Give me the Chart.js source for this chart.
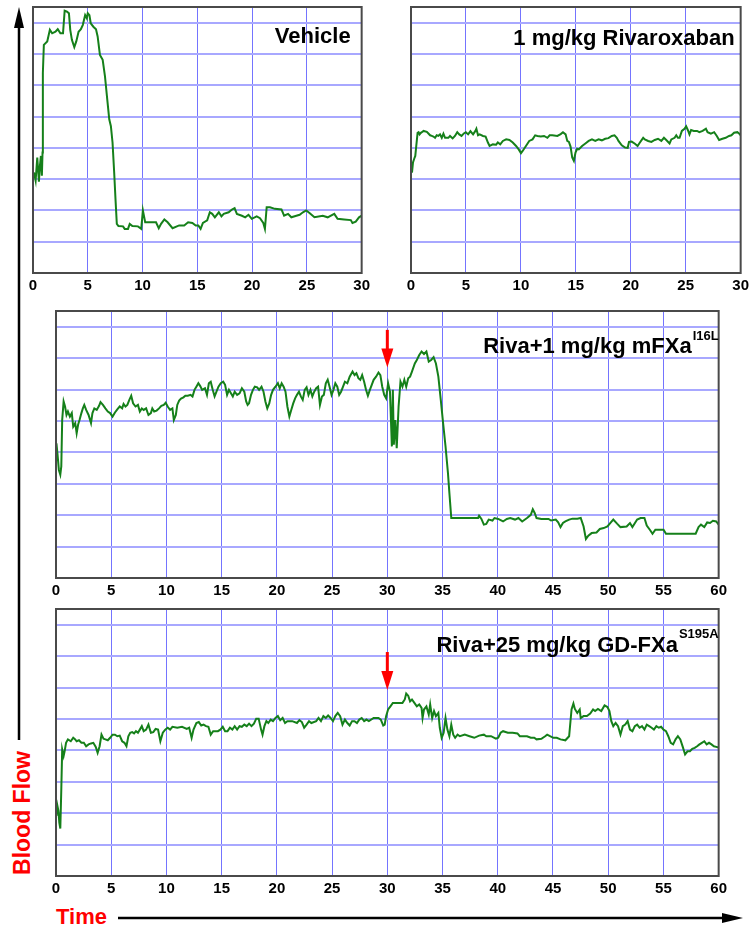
<!DOCTYPE html>
<html lang="en">
<head>
<meta charset="UTF-8">
<title>Blood flow traces</title>
<script src="https://cdn.jsdelivr.net/npm/chart.js@4.4.1/dist/chart.umd.min.js"></script>
<style>
  html, body { margin: 0; padding: 0; background: #fff; overflow: hidden; }
  body { width: 754px; height: 949px; position: relative; font-family: Arial, "Liberation Sans", sans-serif; }
  canvas { position: absolute; }
  svg { position: absolute; left: 0; top: 0; }
</style>
</head>
<body>
<svg width="754" height="949">
  <line x1="19" y1="740" x2="19" y2="24" stroke="#000" stroke-width="2.5"/>
  <polygon points="19,7 14,28 24,28" fill="#000"/>
  <line x1="118" y1="918" x2="726" y2="918" stroke="#000" stroke-width="2.5"/>
  <polygon points="743,918 722,913 722,923" fill="#000"/>
  <text transform="translate(30,813) rotate(-90)" text-anchor="middle" fill="#ff0000" font-family="Arial, Liberation Sans, sans-serif" font-weight="bold" font-size="23">Blood Flow</text>
  <text x="56" y="924" fill="#ff0000" font-family="Arial, Liberation Sans, sans-serif" font-weight="bold" font-size="22">Time</text>
</svg>
<canvas id="vehicle"></canvas>
<canvas id="riva"></canvas>
<canvas id="mfxa"></canvas>
<canvas id="gdfxa"></canvas>

<script>
// time (min) and blood flow readings
const vehicleTime = [0.09,0.24,0.39,0.54,0.63,0.72,0.81,0.87,0.90,0.99,1.30,1.54,1.75,2.05,2.26,2.50,2.74,2.89,3.10,3.28,3.40,3.55,3.77,3.95,4.16,4.37,4.55,4.76,4.91,5.00,5.15,5.27,5.51,5.75,5.90,6.11,6.36,6.57,6.78,6.96,7.11,7.26,7.41,7.53,7.65,7.80,8.22,8.37,8.67,8.83,9.07,9.58,9.88,10.03,10.24,11.23,11.48,11.69,11.99,12.29,12.74,13.34,13.80,14.16,14.55,14.85,15.09,15.30,15.51,15.90,16.14,16.36,16.60,16.96,17.20,17.41,17.86,18.16,18.40,18.61,19.07,19.37,19.67,19.97,20.42,20.72,21.02,21.17,21.33,21.63,22.08,22.68,22.92,23.28,23.58,24.04,24.34,24.64,24.94,25.24,25.69,26.45,26.90,27.50,27.80,28.40,29.01,29.16,29.46,29.76,30];
const vehicleFlow = [3.21,2.95,3.69,2.92,3.42,3.74,3.11,3.85,6.39,7.29,7.40,7.77,7.66,7.71,7.79,7.66,7.66,8.38,8.35,8.30,7.77,7.45,7.22,7.40,7.71,7.79,7.93,8.24,8.14,8.30,8.24,7.98,7.87,7.79,7.56,6.97,6.81,6.28,5.54,4.91,4.69,4.17,3.21,2.36,1.57,1.50,1.49,1.41,1.41,1.57,1.50,1.49,1.41,2.00,1.62,1.62,1.43,1.57,1.71,1.62,1.43,1.52,1.52,1.62,1.60,1.52,1.52,1.41,1.60,1.68,1.94,1.89,1.78,1.94,1.81,1.89,1.94,2.03,2.07,1.89,1.83,1.78,1.86,1.73,1.81,1.75,1.60,1.41,2.10,2.10,2.05,2.03,1.83,1.89,1.78,1.83,1.86,1.94,2.00,1.92,1.78,1.83,1.78,1.89,1.73,1.71,1.69,1.60,1.64,1.78,1.83];

const rivaTime = [0.09,0.18,0.30,0.39,0.48,0.60,0.69,0.78,0.90,0.99,1.14,1.44,1.74,1.89,2.04,2.19,2.34,2.49,2.64,2.80,2.95,3.10,3.40,3.55,3.79,4.00,4.21,4.39,4.60,4.81,4.99,5.20,5.41,5.65,5.86,5.95,6.10,6.25,6.55,6.79,7.00,7.15,7.45,7.75,7.90,8.12,8.36,8.66,8.96,9.26,9.56,9.80,10.01,10.16,10.46,10.76,11.06,11.30,11.51,11.81,12.11,12.41,12.62,12.86,13.32,13.62,13.83,14.07,14.22,14.37,14.52,14.67,14.82,14.97,15.12,15.27,15.57,15.87,16.17,16.47,16.77,17.07,17.37,17.67,17.97,18.27,18.52,18.73,18.88,19.18,19.48,19.72,19.84,20.08,20.38,20.62,20.83,21.13,21.28,21.58,21.88,22.18,22.48,22.78,23.02,23.23,23.53,23.69,23.99,24.14,24.29,24.44,24.65,24.89,25.04,25.19,25.34,25.49,25.73,26.03,26.24,26.54,26.84,26.99,27.29,27.59,27.83,28.04,28.34,28.64,28.94,29.16,29.40,29.70,29.85,30];
const rivaFlow = [3.21,3.53,3.66,3.74,4.06,4.48,4.50,4.43,4.48,4.50,4.54,4.51,4.40,4.38,4.36,4.32,4.40,4.38,4.43,4.32,4.45,4.32,4.32,4.38,4.30,4.38,4.50,4.43,4.38,4.46,4.50,4.43,4.53,4.43,4.54,4.61,4.40,4.43,4.38,4.36,4.17,4.06,4.11,4.10,4.17,4.11,4.22,4.27,4.25,4.17,4.06,3.95,3.83,3.90,4.06,4.22,4.27,4.40,4.38,4.36,4.38,4.32,4.40,4.40,4.38,4.44,4.50,4.43,4.22,4.19,4.04,3.69,3.58,3.85,3.97,3.95,4.06,4.14,4.22,4.27,4.22,4.27,4.24,4.29,4.31,4.38,4.40,4.32,4.22,4.08,4.01,4.00,4.19,4.20,4.13,4.06,4.17,4.32,4.27,4.22,4.19,4.25,4.29,4.22,4.32,4.25,4.14,4.27,4.32,4.40,4.32,4.32,4.54,4.61,4.69,4.57,4.43,4.57,4.54,4.54,4.50,4.54,4.61,4.50,4.45,4.50,4.38,4.25,4.29,4.32,4.38,4.40,4.48,4.50,4.46,4.40];

const mfxaTime = [0.04,0.13,0.26,0.39,0.48,0.56,0.69,0.82,0.95,1.08,1.26,1.43,1.56,1.74,1.87,2.00,2.13,2.30,2.43,2.56,2.73,2.95,3.17,3.30,3.47,3.69,3.90,4.03,4.25,4.47,4.69,4.90,5.12,5.34,5.55,5.77,5.99,6.12,6.29,6.46,6.64,6.81,6.98,7.20,7.42,7.59,7.77,7.94,8.16,8.37,8.59,8.72,8.89,9.11,9.33,9.54,9.76,9.93,10.11,10.33,10.54,10.67,10.85,10.98,11.15,11.32,11.54,11.71,11.93,12.19,12.36,12.54,12.71,12.89,13.06,13.23,13.49,13.67,13.84,14.01,14.19,14.36,14.53,14.71,14.92,15.14,15.31,15.49,15.66,15.84,16.01,16.18,16.40,16.62,16.83,17.05,17.22,17.35,17.48,17.66,17.83,18.00,18.22,18.39,18.61,18.79,18.96,19.13,19.31,19.48,19.65,19.87,20.09,20.26,20.43,20.61,20.78,20.95,21.13,21.30,21.48,21.65,21.82,22.00,22.17,22.34,22.52,22.69,22.86,23.04,23.21,23.38,23.56,23.73,23.90,24.08,24.25,24.43,24.60,24.77,24.95,25.12,25.29,25.47,25.64,25.81,25.99,26.16,26.38,26.59,26.85,27.03,27.20,27.38,27.55,27.72,27.90,28.07,28.24,28.42,28.59,28.76,28.98,29.20,29.37,29.54,29.72,29.89,30.07,30.24,30.41,30.50,30.59,30.72,30.85,31.02,31.19,31.37,31.54,31.71,31.89,32.06,32.23,32.49,32.67,32.89,33.10,33.32,33.54,33.75,33.97,34.19,34.40,34.62,34.84,35.05,35.27,35.49,35.62,35.79,36.14,37.01,38.22,38.31,38.52,38.74,38.96,39.18,39.52,39.70,40.04,40.48,40.82,41.13,41.56,41.87,42.21,42.65,42.99,43.17,43.34,43.51,43.95,44.60,44.82,45.25,45.47,45.68,45.90,46.12,46.46,46.77,47.20,47.51,47.77,47.98,48.20,48.50,48.94,49.24,49.59,49.93,50.24,50.46,50.80,51.11,51.67,51.97,52.19,52.62,52.93,53.28,53.49,53.80,54.01,54.27,55.01,55.23,56.10,56.96,57.92,58.18,58.40,58.70,58.96,59.22,59.48,59.78,60];
const mfxaFlow = [4.29,3.97,3.44,3.29,3.55,5.03,5.62,5.46,5.19,5.30,5.14,5.25,4.82,4.93,4.61,4.88,5.03,5.25,5.40,5.51,5.35,5.19,4.93,5.25,5.40,5.35,5.48,5.60,5.51,5.40,5.30,5.25,5.14,5.27,5.37,5.46,5.40,5.54,5.46,5.51,5.67,5.80,5.56,5.46,5.51,5.30,5.40,5.35,5.40,5.19,5.25,5.40,5.30,5.33,5.40,5.48,5.51,5.58,5.46,5.35,5.40,5.03,5.19,5.51,5.65,5.71,5.75,5.80,5.80,5.83,5.78,5.99,6.09,6.20,6.11,5.99,6.04,5.83,6.20,6.25,5.99,5.78,5.93,6.09,6.20,6.25,6.15,5.83,5.99,5.88,5.78,5.93,5.83,5.88,6.04,5.93,5.62,5.51,5.56,5.83,5.99,6.09,6.07,5.99,6.09,5.93,5.62,5.40,5.56,5.83,5.99,6.09,6.20,6.04,6.20,6.09,5.93,5.46,5.14,5.35,5.56,5.72,5.83,5.93,5.78,5.67,5.99,6.07,5.83,5.99,5.78,5.93,6.04,6.09,5.51,5.78,5.83,6.20,6.31,6.09,5.83,5.99,6.20,6.09,5.83,5.93,6.09,6.25,6.20,6.41,6.57,6.46,6.52,6.36,6.31,6.46,6.25,5.99,5.80,5.99,6.15,6.31,6.41,6.54,6.46,6.09,5.83,5.72,6.20,5.93,4.19,5.99,4.24,5.03,4.13,5.46,6.25,6.09,6.31,6.09,6.36,6.41,6.57,6.83,6.94,7.10,7.21,7.13,7.21,6.89,6.94,7.03,6.83,6.41,5.67,4.93,4.19,3.34,2.70,1.91,1.91,1.91,1.91,1.98,1.88,1.70,1.72,1.86,1.83,1.91,1.88,1.80,1.88,1.91,1.86,1.91,1.80,1.91,2.01,2.19,2.07,1.91,1.88,1.88,1.83,1.86,1.77,1.62,1.75,1.80,1.86,1.89,1.89,1.91,1.64,1.24,1.35,1.43,1.45,1.56,1.59,1.64,1.77,1.86,1.73,1.62,1.64,1.75,1.62,1.86,1.91,1.91,1.67,1.52,1.41,1.54,1.54,1.41,1.41,1.41,1.41,1.62,1.70,1.62,1.77,1.75,1.82,1.80,1.70];

const gdfxaTime = [0.04,0.13,0.22,0.30,0.39,0.48,0.56,0.69,0.78,0.91,1.08,1.34,1.56,1.74,1.87,2.08,2.30,2.52,2.73,2.95,3.17,3.38,3.60,3.77,3.95,4.12,4.30,4.47,4.69,4.90,5.12,5.34,5.55,5.77,5.99,6.20,6.38,6.55,6.72,6.90,7.07,7.24,7.42,7.59,7.77,7.94,8.16,8.37,8.59,8.81,9.02,9.24,9.45,9.67,9.89,10.11,10.33,10.54,10.98,11.41,11.84,12.06,12.28,12.45,12.71,12.93,13.15,13.36,13.58,13.80,14.01,14.23,14.66,14.88,15.10,15.31,15.53,15.75,15.97,16.18,16.40,16.62,16.83,17.05,17.27,17.48,17.70,17.92,18.13,18.35,18.57,18.70,18.87,19.05,19.22,19.44,19.65,19.87,20.09,20.30,20.52,20.74,20.95,21.39,21.82,22.04,22.26,22.47,22.69,22.91,23.12,23.56,23.77,23.99,24.21,24.43,24.64,24.86,25.08,25.29,25.51,25.73,25.94,26.16,26.38,26.59,26.81,27.03,27.25,27.46,27.68,27.90,28.11,28.33,28.76,29.20,29.41,29.63,29.76,29.89,30.07,30.28,30.50,30.93,31.37,31.58,31.71,31.89,32.06,32.23,32.45,32.67,32.89,33.10,33.19,33.32,33.54,33.75,33.88,34.06,34.23,34.40,34.62,34.75,34.92,35.10,35.27,35.44,35.62,35.79,35.97,36.14,36.36,36.57,37.01,37.44,37.87,38.31,38.74,38.96,39.39,39.83,40.04,40.26,40.48,40.91,41.34,41.78,42.00,42.21,42.65,42.99,43.30,43.51,43.95,44.29,44.47,44.73,45.03,45.34,45.68,46.12,46.46,46.68,46.85,46.98,47.20,47.42,47.51,47.77,48.07,48.37,48.63,48.81,49.07,49.37,49.67,49.93,50.11,50.28,50.46,50.67,50.89,51.11,51.32,51.54,51.76,51.97,52.19,52.41,52.62,52.84,53.06,53.28,53.49,53.71,53.93,54.14,54.36,54.58,54.79,55.01,55.23,55.44,55.66,55.88,56.10,56.31,56.53,56.75,56.96,57.18,57.40,57.61,57.83,58.05,58.26,58.48,58.70,58.91,59.13,59.35,59.57,59.78,60];
const gdfxaFlow = [1.91,2.23,2.07,1.70,1.51,2.76,4.03,3.82,3.97,4.24,4.35,4.29,4.40,4.35,4.29,4.32,4.24,4.24,4.13,4.19,4.22,4.24,4.11,3.92,4.13,4.50,4.37,4.35,4.32,4.40,4.50,4.50,4.45,4.47,4.29,4.24,4.13,4.45,4.56,4.58,4.54,4.61,4.56,4.66,4.77,4.61,4.66,4.82,4.56,4.58,4.68,4.66,4.29,4.56,4.66,4.72,4.66,4.75,4.72,4.75,4.68,4.72,4.40,4.66,4.87,4.90,4.79,4.82,4.77,4.75,4.50,4.61,4.61,4.66,4.75,4.61,4.61,4.72,4.66,4.77,4.66,4.77,4.75,4.82,4.77,4.85,4.77,4.85,5.01,5.01,4.66,4.50,4.77,4.93,4.87,4.98,4.93,5.03,5.09,4.96,5.03,4.87,4.93,4.93,4.87,4.96,4.90,4.72,4.82,4.93,4.87,4.93,5.03,4.93,5.09,5.03,5.11,5.03,4.93,5.09,5.19,5.09,4.82,4.98,4.87,4.79,4.93,4.93,4.87,4.98,5.03,4.93,4.98,4.93,5.03,5.03,4.98,4.79,4.82,5.09,5.30,5.40,5.51,5.51,5.51,5.62,5.81,5.74,5.56,5.62,5.51,5.40,5.46,5.35,5.03,5.30,5.40,5.14,5.46,5.03,5.25,5.09,5.19,4.72,4.40,4.56,5.03,4.66,4.45,4.82,4.50,4.40,4.50,4.45,4.50,4.45,4.40,4.47,4.50,4.45,4.45,4.37,4.40,4.56,4.61,4.56,4.56,4.54,4.45,4.45,4.45,4.40,4.40,4.35,4.37,4.45,4.50,4.45,4.40,4.40,4.35,4.32,4.45,5.30,5.49,5.32,5.19,5.30,5.03,5.09,5.09,5.17,5.30,5.25,5.32,5.25,5.43,5.38,5.25,4.93,4.77,4.87,4.77,4.50,4.77,4.82,4.93,4.66,4.61,4.77,4.82,4.72,4.77,4.66,4.82,4.77,4.72,4.66,4.77,4.72,4.75,4.66,4.61,4.45,4.24,4.19,4.35,4.45,4.35,4.11,3.87,3.97,3.97,4.05,4.08,4.13,4.19,4.24,4.29,4.19,4.24,4.19,4.13,4.11,4.09];

const shortRun = 30;      // x axis end, top panels
const longRun = 60;       // x axis end, lower panels
const tickStep = 5;
const flowTop = 8.5;
const injectionAt = 30;   // red arrow time

const FONT = 'Arial, "Liberation Sans", sans-serif';
const PAD = { left: 12, right: 10, top: 2, bottom: 2 };
const AXIS_H = 22;

function points(t, f) {
  return t.map((x, i) => ({ x: x, y: f[i] }));
}

function decor(title, arrow) {
  return {
    id: 'decor',
    afterDatasetsDraw(chart) {
      const { ctx, chartArea: a, scales } = chart;
      ctx.save();
      if (arrow) {
        const x = scales.x.getPixelForValue(arrow.at);
        const y0 = scales.y.getPixelForValue(arrow.from);
        const y1 = scales.y.getPixelForValue(arrow.to);
        ctx.strokeStyle = '#ff0000';
        ctx.fillStyle = '#ff0000';
        ctx.lineWidth = 3;
        ctx.beginPath();
        ctx.moveTo(x, y0);
        ctx.lineTo(x, y1 - 16);
        ctx.stroke();
        ctx.beginPath();
        ctx.moveTo(x - 6, y1 - 19);
        ctx.lineTo(x + 6, y1 - 19);
        ctx.lineTo(x, y1);
        ctx.closePath();
        ctx.fill();
      }
      ctx.strokeStyle = '#4a4a4a';
      ctx.lineWidth = 2;
      ctx.strokeRect(a.left, a.top, a.right - a.left, a.bottom - a.top);

      ctx.fillStyle = '#000';
      ctx.textAlign = 'right';
      ctx.textBaseline = 'alphabetic';
      let right = a.right - title.inset;
      if (title.sup) {
        ctx.font = 'bold 13px ' + FONT;
        ctx.fillText(title.sup, right, a.top + title.supBase);
        right -= ctx.measureText(title.sup).width + 1;
      }
      ctx.font = 'bold 22px ' + FONT;
      ctx.fillText(title.text, right, a.top + title.base);
      ctx.restore();
    }
  };
}

function panel(id, box, xEnd, t, f, title, arrow) {
  const cv = document.getElementById(id);
  cv.width = box.w + PAD.left + PAD.right;
  cv.height = box.h + PAD.top + PAD.bottom + AXIS_H;
  cv.style.left = (box.x - PAD.left) + 'px';
  cv.style.top = (box.y - PAD.top) + 'px';

  new Chart(cv, {
    type: 'line',
    data: {
      datasets: [{
        data: points(t, f),
        borderColor: '#15801a',
        borderWidth: 2,
        pointRadius: 0,
        tension: 0,
        fill: false
      }]
    },
    options: {
      responsive: false,
      animation: false,
      devicePixelRatio: 1,
      layout: { padding: PAD },
      plugins: { legend: { display: false }, tooltip: { enabled: false } },
      scales: {
        x: {
          type: 'linear', min: 0, max: xEnd,
          afterFit: s => { s.height = AXIS_H; },
          ticks: { stepSize: tickStep, autoSkip: false, maxRotation: 0, padding: 4,
                   color: '#000', font: { family: FONT, size: 15, weight: 'bold' } },
          grid: { color: '#7474ff', lineWidth: 1, drawTicks: false },
          border: { display: false }
        },
        y: {
          min: 0, max: flowTop,
          ticks: { display: false, stepSize: 1 },
          grid: { color: '#a8a8ff', lineWidth: 2, drawTicks: false },
          border: { display: false }
        }
      }
    },
    plugins: [decor(title, arrow)]
  });
}

panel('vehicle', { x: 33, y: 7, w: 331, h: 266 }, shortRun, vehicleTime, vehicleFlow,
  { text: 'Vehicle', inset: 11, base: 36 }, null);
panel('riva', { x: 411, y: 7, w: 332, h: 266 }, shortRun, rivaTime, rivaFlow,
  { text: '1 mg/kg Rivaroxaban', inset: 6, base: 38 }, null);
panel('mfxa', { x: 56, y: 311, w: 665, h: 267 }, longRun, mfxaTime, mfxaFlow,
  { text: 'Riva+1 mg/kg mFXa', sup: 'I16L', inset: 0, base: 42, supBase: 29 },
  { at: injectionAt, from: 7.9, to: 6.7 });
panel('gdfxa', { x: 56, y: 609, w: 665, h: 267 }, longRun, gdfxaTime, gdfxaFlow,
  { text: 'Riva+25 mg/kg GD-FXa', sup: 'S195A', inset: 0, base: 43, supBase: 29 },
  { at: injectionAt, from: 7.13, to: 5.92 });
</script>
</body>
</html>
